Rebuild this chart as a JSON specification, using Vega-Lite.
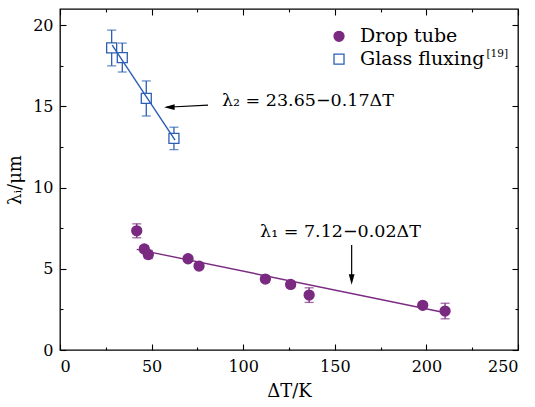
{
  "$schema": "https://vega.github.io/schema/vega-lite/v6.json",
  "width": 458,
  "height": 341,
  "autosize": "none",
  "padding": {"left": 60, "top": 9, "right": 17, "bottom": 57},
  "background": "white",
  "config": {
    "view": {"stroke": "black", "strokeWidth": 1.3},
    "font": "DejaVu Serif",
    "axis": {
      "domain": false,
      "grid": false,
      "tickColor": "black",
      "tickWidth": 1.1,
      "labelFont": "DejaVu Serif",
      "labelFontSize": 16,
      "labelColor": "black",
      "titleFont": "DejaVu Serif",
      "titleFontSize": 18,
      "titleFontWeight": "normal",
      "titleColor": "black"
    }
  },
  "datasets": {
    "pts": [
      {"series": "Drop tube", "x": 41.9, "y": 7.34, "lo": 6.91, "hi": 7.77},
      {"series": "Drop tube", "x": 46.0, "y": 6.22, "lo": 6.02, "hi": 6.42},
      {"series": "Drop tube", "x": 48.2, "y": 5.88, "lo": 5.63, "hi": 6.13},
      {"series": "Drop tube", "x": 69.9, "y": 5.62, "lo": 5.47, "hi": 5.77},
      {"series": "Drop tube", "x": 75.9, "y": 5.17, "lo": 5.02, "hi": 5.32},
      {"series": "Drop tube", "x": 112.1, "y": 4.37, "lo": 4.17, "hi": 4.57},
      {"series": "Drop tube", "x": 125.9, "y": 4.04, "lo": 3.84, "hi": 4.24},
      {"series": "Drop tube", "x": 136.0, "y": 3.38, "lo": 2.93, "hi": 3.83},
      {"series": "Drop tube", "x": 198.0, "y": 2.75, "lo": 2.6, "hi": 2.9},
      {"series": "Drop tube", "x": 210.2, "y": 2.4, "lo": 1.92, "hi": 2.88},
      {"series": "Glass fluxing", "x": 28.2, "y": 18.6, "lo": 17.5, "hi": 19.7},
      {"series": "Glass fluxing", "x": 34.0, "y": 18.01, "lo": 17.12, "hi": 18.9},
      {"series": "Glass fluxing", "x": 47.1, "y": 15.49, "lo": 14.41, "hi": 16.57},
      {"series": "Glass fluxing", "x": 62.2, "y": 13.03, "lo": 12.34, "hi": 13.72}
    ],
    "fits": [
      {"series": "Drop tube", "x": 41.9, "y": 6.2},
      {"series": "Drop tube", "x": 211.0, "y": 2.28},
      {"series": "Glass fluxing", "x": 28.5, "y": 18.77},
      {"series": "Glass fluxing", "x": 62.8, "y": 12.92}
    ],
    "legendSymbols": [
      {"series": "Drop tube", "x": 152.3, "y": 19.32},
      {"series": "Glass fluxing", "x": 152.3, "y": 17.91}
    ],
    "legendLabels": [
      {"x": 163.8, "y": 18.97, "text": "Drop tube"},
      {"x": 163.8, "y": 17.56, "text": "Glass fluxing"}
    ],
    "arrows": [
      {"x": 80.8, "y": 15.08, "x2": 58.0, "y2": 14.95},
      {"x": 159.2, "y": 6.46, "x2": 159.2, "y2": 4.3}
    ],
    "headL": [
      {"x": 59.7, "y": 14.95}
    ],
    "headD": [
      {"x": 159.2, "y": 4.34}
    ],
    "notes": [
      {"x": 88.4, "y": 15.05, "text": "λ₂ = 23.65−0.17ΔT"},
      {"x": 109.2, "y": 6.97, "text": "λ₁ = 7.12−0.02ΔT"}
    ],
    "sup": [
      {"x": 232.8, "y": 18.05, "text": "[19]"}
    ]
  },
  "layer": [
    {
      "data": {"name": "pts"},
      "mark": {"type": "rule", "strokeWidth": 1.3},
      "encoding": {
        "x": {"field": "x", "type": "quantitative", "axis": null},
        "y": {"field": "lo", "type": "quantitative", "axis": null},
        "y2": {"field": "hi"},
        "color": {"field": "series", "type": "nominal", "legend": null,
          "scale": {"domain": ["Drop tube", "Glass fluxing"], "range": ["#7A2A80", "#2B5EB5"]}}
      }
    },
    {
      "data": {"name": "pts"},
      "mark": {"type": "tick", "orient": "horizontal", "size": 9, "thickness": 1.3},
      "encoding": {
        "x": {"field": "x", "type": "quantitative", "axis": null},
        "y": {"field": "lo", "type": "quantitative", "axis": null},
        "color": {"field": "series", "type": "nominal", "legend": null}
      }
    },
    {
      "data": {"name": "pts"},
      "mark": {"type": "tick", "orient": "horizontal", "size": 9, "thickness": 1.3},
      "encoding": {
        "x": {"field": "x", "type": "quantitative", "axis": null},
        "y": {"field": "hi", "type": "quantitative", "axis": null},
        "color": {"field": "series", "type": "nominal", "legend": null}
      }
    },
    {
      "data": {"name": "pts"},
      "mark": {"type": "point", "opacity": 1, "strokeWidth": 1.3, "size": 100},
      "encoding": {
        "x": {"field": "x", "type": "quantitative",
          "scale": {"domain": [0, 250], "nice": false, "zero": false},
          "axis": {
            "orient": "bottom",
            "values": [0, 25, 50, 75, 100, 125, 150, 175, 200, 225, 250],
            "labelExpr": "datum.value % 50 === 0 ? datum.label : ''",
            "tickSize": {"condition": {"test": "datum.value % 50 === 0", "value": -6}, "value": -3},
            "labelPadding": 14,
            "title": "ΔT/K",
            "titlePadding": 8
          }},
        "y": {"field": "y", "type": "quantitative",
          "scale": {"domain": [0, 21], "nice": false, "zero": false},
          "axis": {
            "orient": "left",
            "values": [0, 2.5, 5, 7.5, 10, 12.5, 15, 17.5, 20],
            "labelExpr": "datum.value % 5 === 0 ? datum.label : ''",
            "tickSize": {"condition": {"test": "datum.value % 5 === 0", "value": -6}, "value": -3},
            "labelPadding": 13,
            "title": "λᵢ/μm",
            "titlePadding": 8
          }},
        "shape": {"field": "series", "type": "nominal", "legend": null,
          "scale": {"domain": ["Drop tube", "Glass fluxing"], "range": ["circle", "square"]}},
        "fill": {"field": "series", "type": "nominal", "legend": null,
          "scale": {"domain": ["Drop tube", "Glass fluxing"], "range": ["#7A2A80", "white"]}},
        "stroke": {"field": "series", "type": "nominal", "legend": null,
          "scale": {"domain": ["Drop tube", "Glass fluxing"], "range": ["#7A2A80", "#2B5EB5"]}}
      }
    },
    {
      "data": {"name": "fits"},
      "mark": {"type": "line", "strokeWidth": 1.4},
      "encoding": {
        "x": {"field": "x", "type": "quantitative",
          "axis": {
            "orient": "top",
            "values": [0, 25, 50, 75, 100, 125, 150, 175, 200, 225, 250],
            "labels": false,
            "title": null,
            "tickSize": {"condition": {"test": "datum.value % 50 === 0", "value": -6}, "value": -3}
          }},
        "y": {"field": "y", "type": "quantitative",
          "axis": {
            "orient": "right",
            "values": [0, 2.5, 5, 7.5, 10, 12.5, 15, 17.5, 20],
            "labels": false,
            "title": null,
            "tickSize": {"condition": {"test": "datum.value % 5 === 0", "value": -6}, "value": -3}
          }},
        "color": {"field": "series", "type": "nominal", "legend": null},
        "detail": {"field": "series"}
      }
    },
    {
      "data": {"name": "legendSymbols"},
      "mark": {"type": "point", "opacity": 1, "strokeWidth": 1.3, "size": 100},
      "encoding": {
        "x": {"field": "x", "type": "quantitative", "axis": null},
        "y": {"field": "y", "type": "quantitative", "axis": null},
        "shape": {"field": "series", "type": "nominal", "legend": null},
        "fill": {"field": "series", "type": "nominal", "legend": null},
        "stroke": {"field": "series", "type": "nominal", "legend": null}
      }
    },
    {
      "data": {"name": "legendLabels"},
      "mark": {"type": "text", "align": "left", "baseline": "alphabetic", "fontSize": 19, "font": "DejaVu Serif", "color": "black"},
      "encoding": {
        "x": {"field": "x", "type": "quantitative", "axis": null},
        "y": {"field": "y", "type": "quantitative", "axis": null},
        "text": {"field": "text"}
      }
    },
    {
      "data": {"name": "arrows"},
      "mark": {"type": "rule", "color": "black", "strokeWidth": 1.2},
      "encoding": {
        "x": {"field": "x", "type": "quantitative", "axis": null},
        "y": {"field": "y", "type": "quantitative", "axis": null},
        "x2": {"field": "x2"},
        "y2": {"field": "y2"}
      }
    },
    {
      "data": {"name": "headL"},
      "mark": {"type": "point", "filled": true, "opacity": 1, "color": "black", "size": 110, "shape": "M-1,0L1,-0.55L1,0.55Z"},
      "encoding": {
        "x": {"field": "x", "type": "quantitative", "axis": null},
        "y": {"field": "y", "type": "quantitative", "axis": null}
      }
    },
    {
      "data": {"name": "headD"},
      "mark": {"type": "point", "filled": true, "opacity": 1, "color": "black", "size": 110, "shape": "M0,1L-0.55,-1L0.55,-1Z"},
      "encoding": {
        "x": {"field": "x", "type": "quantitative", "axis": null},
        "y": {"field": "y", "type": "quantitative", "axis": null}
      }
    },
    {
      "data": {"name": "notes"},
      "mark": {"type": "text", "align": "left", "baseline": "alphabetic", "fontSize": 17.5, "font": "DejaVu Serif", "color": "black"},
      "encoding": {
        "x": {"field": "x", "type": "quantitative", "axis": null},
        "y": {"field": "y", "type": "quantitative", "axis": null},
        "text": {"field": "text"}
      }
    },
    {
      "data": {"name": "sup"},
      "mark": {"type": "text", "align": "left", "baseline": "alphabetic", "fontSize": 10.5, "font": "DejaVu Serif", "color": "black"},
      "encoding": {
        "x": {"field": "x", "type": "quantitative", "axis": null},
        "y": {"field": "y", "type": "quantitative", "axis": null},
        "text": {"field": "text"}
      }
    }
  ],
  "resolve": {"axis": {"x": "independent", "y": "independent"}}
}
